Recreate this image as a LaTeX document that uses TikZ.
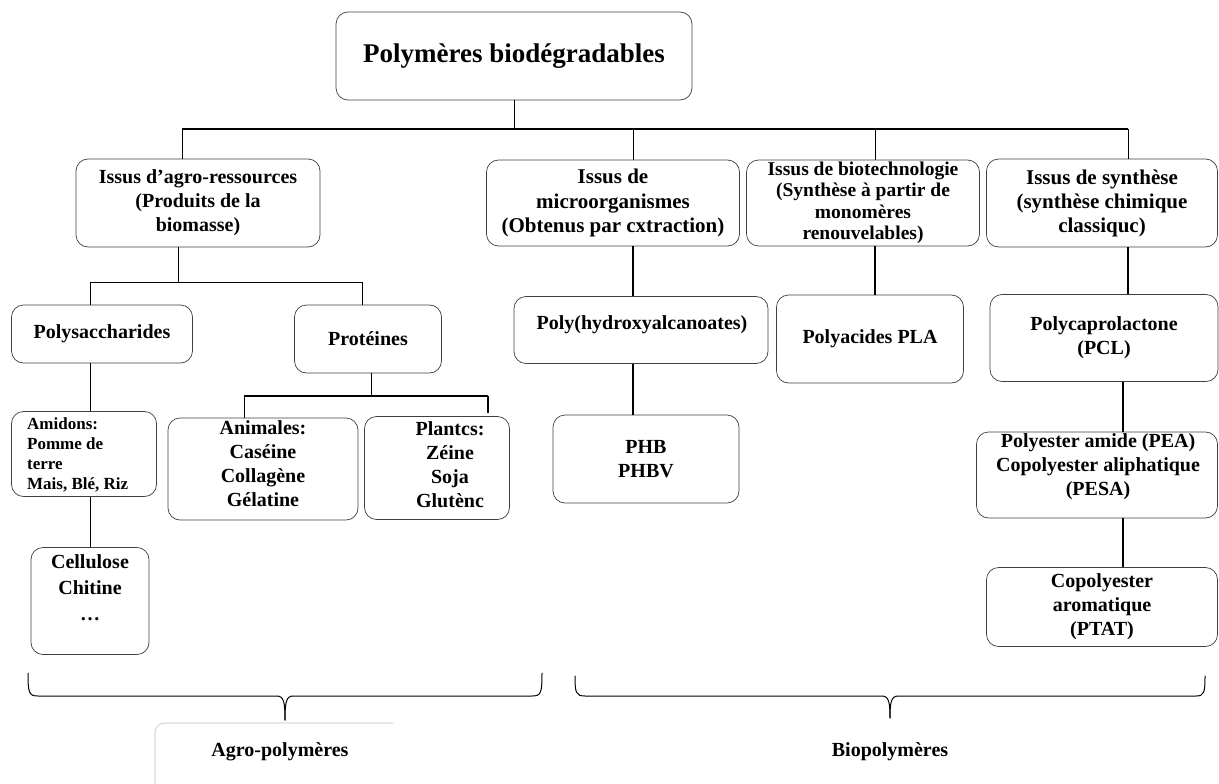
\documentclass[tikz,border=0pt]{standalone}
\usepackage{fontspec}
\setmainfont{Liberation Serif}
\tikzset{
  box/.style={draw=black!75, line width=0.7pt, rounded corners=12pt, fill=white, inner sep=0pt, align=center, font=\bfseries\fontsize{20}{24}\selectfont},
  txt/.style={inner sep=0pt, align=center, font=\bfseries\fontsize{20}{24}\selectfont},
  conn/.style={line width=1pt},
  connb/.style={line width=1.8pt},
  bracepath/.style={line width=1pt, line cap=round}
}
\begin{document}
\begin{tikzpicture}[x=1pt,y=-1pt]
\useasboundingbox (0,0) rectangle (1219,784);

% boxes
\node[box, minimum width=356pt, minimum height=88pt, font=\bfseries\fontsize{27}{30}\selectfont] (root) at (514,56) {Polymères biodégradables};
\node[box, minimum width=244pt, minimum height=88pt] (agro) at (198,203) {Issus d’agro-ressources\\(Produits de la\\biomasse)};
\node[box, minimum width=253pt, minimum height=86pt, font=\bfseries\fontsize{21}{24.5}\selectfont] (micro) at (613,203) {Issus de\\microorganismes\\(Obtenus par cxtraction)};
\node[box, minimum width=233pt, minimum height=86pt, font=\bfseries\fontsize{19.5}{21.5}\selectfont] (biotech) at (863,203) {Issus de biotechnologie\\(Synthèse à partir de\\monomères\\renouvelables)};
\node[box, minimum width=231pt, minimum height=88pt, font=\bfseries\fontsize{21}{24}\selectfont] (synth) at (1102,203) {Issus de synthèse\\(synthèse chimique\\classiquc)};

\node[box, minimum width=181pt, minimum height=58pt] (polys) at (102,334) {Polysaccharides};
\node[box, minimum width=147pt, minimum height=68pt] (prot) at (368,339) {Protéines};
\node[box, minimum width=145pt, minimum height=85pt] (amid) at (84,454) {};
\node[txt, anchor=west, align=left, font=\bfseries\fontsize{17}{20}\selectfont] (amid-t) at (27,455) {Amidons:\\Pomme de\\terre\\Mais, Blé, Riz};
\node[box, minimum width=190pt, minimum height=102pt] (anim) at (263,469) {};
\node[txt] (anim-t) at (263,464) {Animales:\\Caséine\\Collagène\\Gélatine};
\node[box, minimum width=145pt, minimum height=103pt] (plant) at (437,468) {};
\node[txt] (plant-t) at (450,465) {Plantcs:\\Zéine\\Soja\\Glutènc};
\node[box, minimum width=118pt, minimum height=107pt] (cell) at (90,601) {};
\node[txt, font=\bfseries\fontsize{20}{26}\selectfont] (cell-t) at (90,588) {Cellulose\\Chitine\\…};

\node[box, minimum width=254pt, minimum height=67pt] (polyh) at (641,330) {};
\node[txt] (polyh-t) at (642,325) {Poly(hydroxyalcanoates)};
\node[box, minimum width=186pt, minimum height=88pt] (phb) at (646,459) {PHB\\PHBV};
\node[box, minimum width=187pt, minimum height=88pt] (pla) at (870,339) {Polyacides PLA};
\node[box, minimum width=228pt, minimum height=87pt] (pcl) at (1104,338) {Polycaprolactone\\(PCL)};
\node[box, minimum width=241pt, minimum height=86pt] (pea) at (1097,475) {};
\node[txt] (pea-t) at (1098,467) {Polyester amide (PEA)\\Copolyester aliphatique\\(PESA)};
\node[box, minimum width=231pt, minimum height=79pt] (ptat) at (1102,607) {Copolyester\\aromatique\\(PTAT)};

% connectors, top level
\coordinate (barl) at (182,129);
\coordinate (b2) at (633,129);
\coordinate (b3) at (875,129);
\coordinate (barr) at (1128,129);
\draw[conn] (root.south) -- (root.south |- barl);
\draw[line width=1.4pt] (barl) -- (barr);
\draw[conn] (barl) -- (barl |- agro.north);
\draw[conn] (b2) -- (b2 |- micro.north);
\draw[conn] (b3) -- (b3 |- biotech.north);
\draw[conn] (barr) -- (barr |- synth.north);

% agro branch
\coordinate (a1) at (178,282);
\coordinate (a2) at (90,282);
\coordinate (a3) at (362,282);
\draw[conn] (a1 |- agro.south) -- (a1);
\draw[conn] (a2) -- (a3);
\draw[conn] (a2) -- (a2 |- polys.north);
\draw[conn] (a3) -- (a3 |- prot.north);
\draw[conn] (a2 |- polys.south) -- (a2 |- amid.north);
\draw[conn] (a2 |- amid.south) -- (a2 |- cell.north);
\coordinate (p1) at (371,396);
\coordinate (p2) at (244,396);
\coordinate (p3) at (488,396);
\draw[conn] (p1 |- prot.south) -- (p1);
\draw[line width=1.4pt] (p2) -- (p3);
\draw[conn] (p2) -- (p2 |- anim.north);
\draw[line width=1.6pt] (p3) -- ([yshift=3pt]p3 |- plant.north);

% micro / biotech / synth branches
\draw[connb] (b2 |- micro.south) -- (b2 |- polyh.north);
\draw[connb] (b2 |- polyh.south) -- (b2 |- phb.north);
\draw[connb] (b3 |- biotech.south) -- (b3 |- pla.north);
\coordinate (s2) at (1123,400);
\draw[connb] (barr |- synth.south) -- (barr |- pcl.north);
\draw[connb] (s2 |- pcl.south) -- (s2 |- pea.north);
\draw[connb] (s2 |- pea.south) -- (s2 |- ptat.north);

% braces
\draw[bracepath] (28,673) .. controls (28,693) and (29,696) .. (38,696) -- (277,696) .. controls (284,696) and (285,703) .. (285,720);
\draw[bracepath] (285,720) .. controls (285,703) and (286,696) .. (293,696) -- (532,696) .. controls (541,696) and (542,693) .. (542,673);
\draw[bracepath] (575,676) .. controls (575,693) and (576,696) .. (585,696) -- (882,696) .. controls (889,696) and (890,703) .. (890,718);
\draw[bracepath] (890,718) .. controls (890,703) and (891,696) .. (898,696) -- (1196,696) .. controls (1204,696) and (1205,693) .. (1205,676);

% bottom labels
\draw[black!25, line width=0.6pt, rounded corners=10pt] (155,784) -- (155,723) -- (393,723);
\node[txt] (agrop) at (280,752) {Agro-polymères};
\node[txt] (biop) at (890,752) {Biopolymères};
\end{tikzpicture}
\end{document}
